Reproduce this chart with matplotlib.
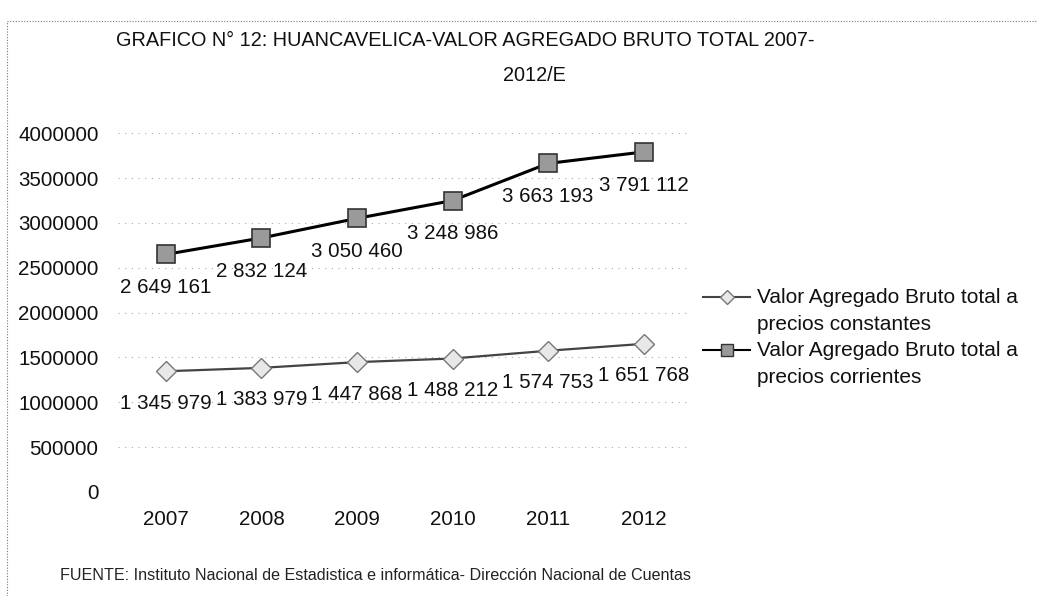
import matplotlib
matplotlib.use("Agg")
import matplotlib.pyplot as plt
from matplotlib.lines import Line2D

years = ["2007", "2008", "2009", "2010", "2011", "2012"]
constantes = [1345979, 1383979, 1447868, 1488212, 1574753, 1651768]
corrientes = [2649161, 2832124, 3050460, 3248986, 3663193, 3791112]
yticks = [0, 500000, 1000000, 1500000, 2000000, 2500000, 3000000, 3500000, 4000000]
label_const = "Valor Agregado Bruto total a\nprecios constantes"
label_corr = "Valor Agregado Bruto total a\nprecios corrientes"
title1 = "GRAFICO N° 12: HUANCAVELICA-VALOR AGREGADO BRUTO TOTAL 2007-"
title2 = "2012/E"
source = "FUENTE: Instituto Nacional de Estadistica e informática- Dirección Nacional de Cuentas"

def fmt(v):
    return f"{v:,}".replace(",", " ")

plt.rcParams['font.family'] = ['Liberation Sans', 'DejaVu Sans']

W, H = 1037, 596
fig = plt.figure(figsize=(W / 100, H / 100), dpi=100)
ax = fig.add_axes([0.1138, 0.1745, 0.553, 0.602])

x = list(range(len(years)))
style_const = dict(color="#444444", lw=1.6, marker="D", ms=10,
                   mfc="#e8e8e8", mec="#777777", mew=1.0)
style_corr = dict(color="black", lw=2.2, marker="s", ms=13,
                  mfc="#9a9a9a", mec="#333333", mew=1.2)
ax.plot(x, constantes, zorder=3, **style_const)
ax.plot(x, corrientes, zorder=3, **style_corr)

for xi, v in zip(x, constantes):
    ax.annotate(fmt(v), (xi, v), xytext=(0, -23), textcoords="offset points",
                ha="center", va="center", fontsize=14.8, color="#111111")
for xi, v in zip(x, corrientes):
    ax.annotate(fmt(v), (xi, v), xytext=(0, -24), textcoords="offset points",
                ha="center", va="center", fontsize=14.8, color="#111111")

ax.set_xlim(-0.5, 5.5)
ax.set_ylim(0, 4000000)
ax.set_xticks(x)
ax.set_xticklabels(years)
ax.set_yticks(yticks)
ax.set_yticklabels([str(t) for t in yticks])
ax.tick_params(axis="both", length=0, labelsize=14.8, colors="#111111")
ax.tick_params(axis="y", pad=14)
ax.tick_params(axis="x", pad=13)
ax.grid(axis="y", color="#aaaaaa", lw=0.8, ls=(0, (1, 5)))
for s in ax.spines.values():
    s.set_visible(False)
ax.set_facecolor("none")

fig.text(0.449, 0.932, title1, ha="center", va="center", fontsize=14.35,
         color="#111111")
fig.text(0.515, 0.873, title2, ha="center", va="center", fontsize=14.35,
         color="#111111")

# legend drawn manually: handle aligned with the first text line
entries = [(297, label_const, style_const), (350, label_corr, style_corr)]
for y_px, label, style in entries:
    yf = 1 - y_px / H
    ms = 7 if style["marker"] == "D" else 8
    fig.add_artist(Line2D([703 / W, 750 / W], [yf, yf], color=style["color"],
                          lw=1.5, transform=fig.transFigure))
    fig.add_artist(Line2D([726.5 / W], [yf], linestyle="none",
                          marker=style["marker"], ms=ms, mfc=style["mfc"],
                          mec=style["mec"], mew=1.0, transform=fig.transFigure))
    fig.text(757 / W, 1 - (y_px + 14) / H, label, ha="left", va="center",
             fontsize=15, color="#111111", linespacing=1.55)

fig.text(0.058, 0.035, source, ha="left", va="center", fontsize=11.6,
         color="#222222")

# dotted page border (top and left)
fig.add_artist(Line2D([0.007, 1.0], [0.965, 0.965], color="#777777", lw=0.8,
                      ls=(0, (1, 1.5)), transform=fig.transFigure))
fig.add_artist(Line2D([0.007, 0.007], [0.0, 0.965], color="#777777", lw=0.8,
                      ls=(0, (1, 1.5)), transform=fig.transFigure))

fig.savefig("out.png", dpi=100)
